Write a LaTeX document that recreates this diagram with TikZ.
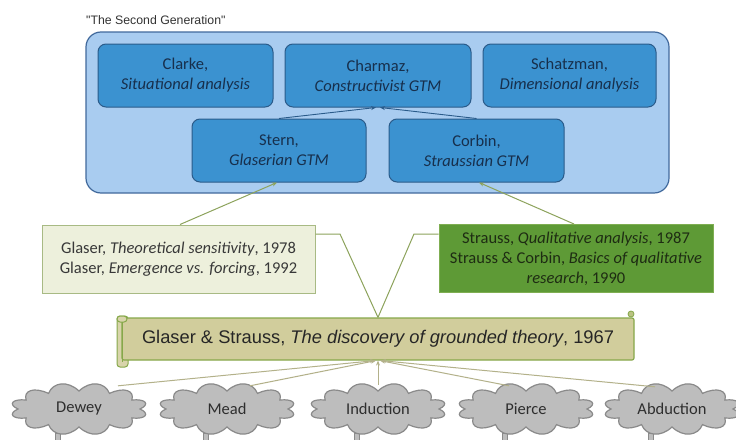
\documentclass[tikz,border=0pt]{standalone}
\usepackage{fontspec}
\setmainfont{Carlito}
\newfontfamily\arialf{Liberation Sans}
\usetikzlibrary{arrows.meta,calc}
\definecolor{outerfill}{HTML}{A9CCF0}
\definecolor{outerdraw}{HTML}{41699C}
\definecolor{innerfill}{HTML}{3B92D0}
\definecolor{innerdraw}{HTML}{2A5B8A}
\definecolor{innertext}{HTML}{172F4C}
\definecolor{glaserfill}{HTML}{EDF0DC}
\definecolor{glaserdraw}{HTML}{A8BA84}
\definecolor{straussfill}{HTML}{5E9A36}
\definecolor{straussdraw}{HTML}{7FAE52}
\definecolor{straussText}{HTML}{1E2C13}
\definecolor{gsfill}{HTML}{D1CD9C}
\definecolor{gsdraw}{HTML}{86A84A}
\definecolor{linkgreen}{HTML}{8DA35C}
\definecolor{linktan}{HTML}{B3B18A}
\definecolor{cloudfill}{HTML}{BDBDBD}
\definecolor{clouddraw}{HTML}{8A8A8A}
\definecolor{cloudtext}{HTML}{2E2E2E}
\tikzset{
  innerbox/.style={draw=innerdraw, line width=1pt, fill=innerfill, rounded corners=8pt,
    minimum height=63pt, align=center, text=innertext,
    font=\fontsize{16.5}{20}\selectfont, inner sep=0pt},
  bookbox/.style={line width=1pt, minimum height=68pt, minimum width=273pt,
    align=center, font=\fontsize{16.5}{20}\selectfont, inner sep=0pt},
  cloudlabel/.style={minimum width=138pt, minimum height=48pt, inner sep=0pt,
    text=cloudtext, font=\fontsize{16.5}{18}\selectfont},
  cloudpath/.style={draw=clouddraw, line width=1.2pt, fill=cloudfill},
  navyarrow/.style={draw=innerdraw, line width=0.9pt, -{Stealth[length=5pt,width=4pt]}},
  greenarrow/.style={draw=linkgreen, line width=1pt, -{Stealth[length=5pt,width=4pt]}},
  greenline/.style={draw=linkgreen, line width=1pt},
  tanarrow/.style={draw=linktan, line width=1pt, -{Stealth[length=5pt,width=4pt]}},
  stem/.style={fill=cloudfill, draw=clouddraw, line width=0.6pt}
}
% cloud outline around a named centre: #1 = name
\newcommand{\mycloudshape}[1]{%
  \draw[cloudpath] ($(#1)+(61,0)$)
    \foreach \t in {0,30,...,330}{
      .. controls ($(#1)+({72*cos(\t+9)},{29*sin(\t+9)})$)
              and ($(#1)+({72*cos(\t+21)},{29*sin(\t+21)})$)
      .. ($(#1)+({61*cos(\t+30)},{18*sin(\t+30)})$)
    } -- cycle;%
}
\begin{document}
\begin{tikzpicture}[x=1pt,y=-1pt]
\useasboundingbox (0,0) rectangle (736,439);
\fill[white] (0,0) rectangle (736,439);

% title
\node[font=\arialf\fontsize{12.3}{14}\selectfont, text=black!80, anchor=west, inner sep=0pt] (title) at (86,20) {"The Second Generation"};

% outer container
\node[draw=outerdraw, line width=1.2pt, fill=outerfill, rounded corners=15pt,
  minimum width=583pt, minimum height=161pt, inner sep=0pt] (outer) at (377.5,112.5) {};

% second generation boxes
\node[innerbox, minimum width=175pt] (clarke) at (185.5,75.5) {Clarke,\\\textit{Situational analysis}};
\node[innerbox, minimum width=186pt] (charmaz) at (378,75.5) {Charmaz,\\\textit{Constructivist GTM}};
\node[innerbox, minimum width=173pt] (schatzman) at (569.5,75.5) {Schatzman,\\\textit{Dimensional analysis}};
\node[innerbox, minimum width=174pt] (stern) at (279,150.5) {Stern,\\\textit{Glaserian GTM}};
\node[innerbox, minimum width=175pt] (corbin) at (476.5,150.5) {Corbin,\\\textit{Straussian GTM}};

\draw[navyarrow] (stern.north) -- ($(charmaz.south)+(-2,0)$);
\draw[navyarrow] (corbin.north) -- ($(charmaz.south)+(2,0)$);

% book boxes
\node[bookbox, draw=glaserdraw, fill=glaserfill, text=black!78] (glaser) at (178.5,259)
  {Glaser, \textit{Theoretical sensitivity}, 1978\\Glaser, \textit{Emergence vs. forcing}, 1992};
\node[bookbox, draw=straussdraw, fill=straussfill, text=straussText, minimum width=274pt] (strauss) at (576,258.5)
  {Strauss, \textit{Qualitative analysis}, 1987\\Strauss \& Corbin, \textit{Basics of qualitative}\\\textit{research}, 1990};

\draw[greenarrow] ($(glaser.north)+(1.5,0)$) -- ($(stern.south)+(-2,0)$);
\draw[greenarrow] ($(strauss.north)+(-2,0)$) -- ($(corbin.south)+(2.5,0)$);

% Glaser & Strauss scroll
\draw[gsdraw, line width=1pt, fill=gsfill!85!white, rounded corners=3pt] (117,316) rectangle (128,367);
\node[draw=gsdraw, line width=1.2pt, fill=gsfill, rounded corners=2pt, minimum width=512pt,
  minimum height=42pt, inner sep=0pt, text=black!85,
  font=\arialf\fontsize{18.3}{20}\selectfont] (gs) at (378,339)
  {Glaser \& Strauss, \textit{The discovery of grounded theory}, 1967};
\draw[gsdraw, line width=1pt, fill=gsfill!85!white, rounded corners=3pt] (117,316) rectangle (127,322);
\draw[gsdraw, line width=1pt] (122,322) -- (122,362);
\filldraw[draw=gsdraw, fill=gsfill!70!gsdraw, line width=0.8pt] (631,314) circle (3pt);

\coordinate (gl) at (340,234);
\coordinate (gr) at (414,234);
\draw[greenline] (gs.north) -- (gl) -- (glaser.east |- gl);
\draw[greenline] (gs.north) -- (gr) -- (strauss.west |- gr);

% clouds
\coordinate (cd) at (79,409);
\coordinate (cm) at (227,409);
\coordinate (ci) at (378,409);
\coordinate (cp) at (526,409);
\coordinate (ca) at (672,409);
\foreach \c in {cd,cm,ci,cp,ca}{
  \draw[stem] ($(\c)+(-24,24)$) rectangle ($(\c)+(-19,31)$);
  \mycloudshape{\c}
}
\node[cloudlabel] (dewey) at (cd) {Dewey};
\node[cloudlabel] (mead) at (cm) {Mead};
\node[cloudlabel] (induction) at (ci) {Induction};
\node[cloudlabel] (pierce) at (cp) {Pierce};
\node[cloudlabel] (abduction) at (ca) {Abduction};

\draw[tanarrow] ($(dewey.north)+(39,1)$) -- ($(gs.south)+(-3,0)$);
\draw[tanarrow] ($(mead.north)+(23,1)$) -- ($(gs.south)+(-2,0)$);
\draw[tanarrow] (induction.north) -- (gs.south);
\draw[tanarrow] ($(pierce.north)+(-17,1)$) -- ($(gs.south)+(2,0)$);
\draw[tanarrow] ($(abduction.north)+(-17,2)$) -- ($(gs.south)+(3,0)$);
\end{tikzpicture}
\end{document}
